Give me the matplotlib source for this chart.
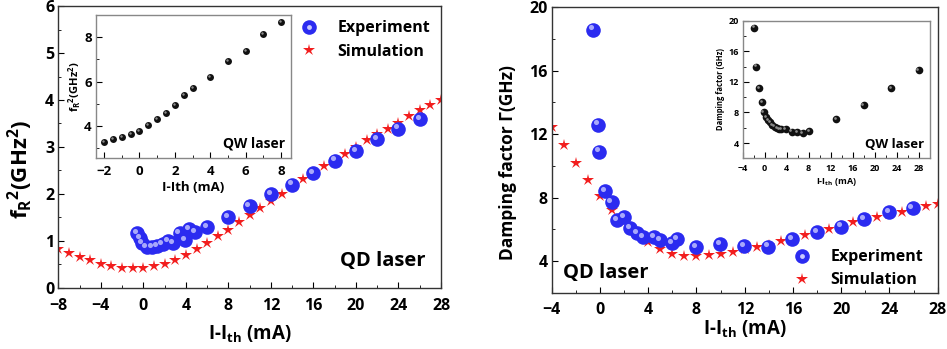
import matplotlib
matplotlib.use('Agg')
import matplotlib.pyplot as plt
from matplotlib.transforms import offset_copy
from matplotlib.lines import Line2D
from matplotlib.legend_handler import HandlerTuple

plt.rcParams['font.family'] = ['Open Sans', 'DejaVu Sans']
plt.rcParams['font.weight'] = 'bold'
plt.rcParams['mathtext.default'] = 'regular'

# ---- left panel: resonance frequency squared ----
qd_fr_exp_x = [-0.6, -0.3, -0.1, 0.3, 0.8, 1.3, 1.8, 2.3, 2.8, 3.4, 3.9, 4.3,
               4.9, 6, 8, 10, 12, 14, 16, 18, 20, 22, 24, 26]
qd_fr_exp_y = [1.17, 1.07, 0.95, 0.87, 0.87, 0.89, 0.94, 1.00, 0.95, 1.16, 1.02,
               1.26, 1.19, 1.29, 1.51, 1.75, 1.99, 2.20, 2.44, 2.71, 2.91, 3.16,
               3.39, 3.59]
qd_fr_sim_x = list(range(-8, 29))
qd_fr_sim_y = [0.84, 0.75, 0.66, 0.59, 0.52, 0.47, 0.43, 0.43, 0.43, 0.46, 0.50,
               0.59, 0.70, 0.82, 0.96, 1.10, 1.24, 1.41, 1.56, 1.70, 1.85, 2.01,
               2.17, 2.31, 2.46, 2.60, 2.72, 2.86, 3.00, 3.15, 3.27, 3.39, 3.52,
               3.66, 3.79, 3.89, 4.01]
qw_fr_x = [-2, -1.5, -1, -0.5, 0, 0.5, 1, 1.5, 2, 2.5, 3, 4, 5, 6, 7, 8]
qw_fr_y = [3.29, 3.40, 3.50, 3.65, 3.77, 4.05, 4.30, 4.59, 4.92, 5.38, 5.72,
           6.19, 6.91, 7.38, 8.15, 8.68]

# ---- right panel: damping factor ----
qd_gam_exp_x = [-0.55, -0.13, -0.05, 0.42, 0.97, 1.39, 2.0, 2.49, 3.05, 3.6,
                4.48, 4.98, 5.95, 6.42, 7.96, 9.95, 11.94, 13.96, 15.92, 17.97,
                19.96, 21.92, 23.96, 25.92]
qd_gam_exp_y = [18.6, 12.6, 10.9, 8.4, 7.69, 6.59, 6.76, 6.07, 5.75, 5.5, 5.5,
                5.33, 5.12, 5.39, 4.86, 5.08, 4.95, 4.91, 5.39, 5.81, 6.17, 6.66,
                7.06, 7.33]
qd_gam_sim_x = list(range(-4, 29))
qd_gam_sim_y = [12.44, 11.3, 10.18, 9.13, 8.11, 7.23, 6.43, 5.71, 5.18, 4.74,
                4.44, 4.32, 4.32, 4.36, 4.44, 4.59, 4.78, 4.91, 5.01, 5.27, 5.41,
                5.62, 5.79, 6.0, 6.19, 6.43, 6.59, 6.76, 6.97, 7.12, 7.29, 7.48,
                7.61]
qw_gam_x = [-2, -1.5, -1, -0.5, -0.2, 0.2, 0.6, 1.0, 1.4, 1.8, 2.2, 2.6, 3.0,
            3.8, 4.9, 5.9, 6.9, 8.0, 13, 18, 23, 28]
qw_gam_y = [19.1, 14.0, 11.2, 9.3, 8.0, 7.4, 7.0, 6.7, 6.4, 6.15, 5.95, 5.85,
            5.8, 5.85, 5.5, 5.45, 5.3, 5.6, 7.1, 9.0, 11.2, 13.5]

BLUE = '#2b2bf0'
RED = '#f21d1d'


def spheres(ax, fig, x, y, ms, color, hi):
    ax.plot(x, y, 'o', ms=ms, color=color, mec=color, mew=0, zorder=3)
    tr = offset_copy(ax.transData, fig, x=-ms * 0.15, y=ms * 0.15, units='points')
    ax.plot(x, y, 'o', ms=ms * 0.35, color=hi, mew=0, alpha=0.8,
            transform=tr, zorder=4)


def style(ax, tick_size, spine_color='#333333', xpad=3):
    ax.tick_params(which='both', direction='in', top=False, right=False,
                   labelsize=tick_size, pad=3)
    ax.tick_params(axis='x', pad=xpad)
    ax.tick_params(which='major', length=4)
    ax.tick_params(which='minor', length=2)
    for s in ax.spines.values():
        s.set_color(spine_color)
        s.set_linewidth(1.0)


fig = plt.figure(figsize=(9.47, 3.49), dpi=100)

h_exp = (Line2D([], [], ls='', marker='o', ms=10.5, color=BLUE, mew=0),
         Line2D([], [], ls='', marker='o', ms=3.5, color='#c8c8ff', mew=0))
h_sim = Line2D([], [], ls='', marker='*', ms=9, color=RED, mew=0)
hmap = {tuple: HandlerTuple(ndivide=1, pad=0)}

# left main
ax1 = fig.add_axes([0.0616, 0.1748, 0.4041, 0.808])
ax1.plot(qd_fr_sim_x, qd_fr_sim_y, '*', ms=9, color=RED, mew=0, zorder=2)
spheres(ax1, fig, qd_fr_exp_x, qd_fr_exp_y, 10.5, BLUE, '#c8c8ff')
ax1.set_xlim(-8, 28)
ax1.set_ylim(0, 6)
ax1.set_xticks(range(-8, 29, 4))
ax1.set_xticks(range(-8, 29, 2), minor=True)
ax1.set_yticks(range(0, 7))
ax1.set_yticks([i + 0.5 for i in range(6)], minor=True)
style(ax1, 11.5, xpad=7)
ax1.set_xlabel('I-I$_{th}$ (mA)', fontsize=13.5, fontweight='bold', labelpad=7)
ax1.set_ylabel('f$_R$$^2$(GHz$^2$)', fontsize=16, fontweight='bold')
ax1.yaxis.set_label_coords(-0.06, 0.42)
ax1.text(0.96, 0.06, 'QD laser', transform=ax1.transAxes, ha='right',
         va='bottom', fontsize=14.5, fontweight='bold')
ax1.legend([h_exp, h_sim], ['Experiment', 'Simulation'], handler_map=hmap,
           loc='upper right', bbox_to_anchor=(1.01, 1.0), frameon=False,
           fontsize=11.5, handletextpad=0.8, labelspacing=0.45)

# left inset
ax1i = fig.add_axes([0.1014, 0.5473, 0.2059, 0.4097])
spheres(ax1i, fig, qw_fr_x, qw_fr_y, 5, '#111111', '#aaaaaa')
ax1i.set_xlim(-2.45, 8.56)
ax1i.set_ylim(2.55, 9.0)
ax1i.set_xticks(range(-2, 9, 2))
ax1i.set_xticks(range(-2, 9, 1), minor=True)
ax1i.set_yticks([4, 6, 8])
ax1i.set_yticks([3, 5, 7, 9], minor=True)
style(ax1i, 9.5, '#888888', xpad=5)
ax1i.set_xlabel('I-Ith (mA)', fontsize=9.5, fontweight='bold', labelpad=2)
ax1i.set_ylabel('f$_R$$^2$(GHz$^2$)', fontsize=8, fontweight='bold', labelpad=1)
ax1i.text(0.97, 0.05, 'QW laser', transform=ax1i.transAxes, ha='right',
          va='bottom', fontsize=10, fontweight='bold')

# right main
ax2 = fig.add_axes([0.5826, 0.1613, 0.4076, 0.8177])
ax2.plot(qd_gam_sim_x, qd_gam_sim_y, '*', ms=9, color=RED, mew=0, zorder=2)
spheres(ax2, fig, qd_gam_exp_x, qd_gam_exp_y, 10.5, BLUE, '#c8c8ff')
ax2.set_xlim(-4, 28)
ax2.set_ylim(2, 20)
ax2.set_xticks(range(-4, 29, 4))
ax2.set_xticks(range(-4, 29, 2), minor=True)
ax2.set_yticks([4, 8, 12, 16, 20])
ax2.set_yticks(range(2, 21, 2), minor=True)
style(ax2, 11.5, xpad=7)
ax2.set_xlabel('I-I$_{th}$ (mA)', fontsize=13.5, fontweight='bold', labelpad=0)
ax2.set_ylabel('Damping factor Γ(GHz)', fontsize=12.5, fontweight='bold')
ax2.yaxis.set_label_coords(-0.09, 0.455)
ax2.text(0.03, 0.035, 'QD laser', transform=ax2.transAxes, ha='left',
         va='bottom', fontsize=14.5, fontweight='bold')
ax2.legend([h_exp, h_sim], ['Experiment', 'Simulation'], handler_map=hmap,
           loc='lower right', bbox_to_anchor=(1.0, -0.035), frameon=False,
           fontsize=11.5, handletextpad=0.8, labelspacing=0.45)

# right inset
ax2i = fig.add_axes([0.7843, 0.5464, 0.1978, 0.3943])
spheres(ax2i, fig, qw_gam_x, qw_gam_y, 5.5, '#111111', '#aaaaaa')
ax2i.set_xlim(-4, 30.1)
ax2i.set_ylim(2, 20)
ax2i.set_xticks(range(-4, 29, 4))
ax2i.set_xticks(range(-4, 29, 2), minor=True)
ax2i.set_yticks([4, 8, 12, 16, 20])
ax2i.set_yticks(range(2, 21, 2), minor=True)
style(ax2i, 6.5, '#888888', xpad=4)
ax2i.set_xlabel('I-I$_{th}$ (mA)', fontsize=6.5, fontweight='bold', labelpad=2)
ax2i.set_ylabel('Damping factor (GHz)', fontsize=5.5, fontweight='bold', labelpad=2)
ax2i.text(0.97, 0.05, 'QW laser', transform=ax2i.transAxes, ha='right',
          va='bottom', fontsize=9.5, fontweight='bold')

fig.savefig('out.png', dpi=100)
